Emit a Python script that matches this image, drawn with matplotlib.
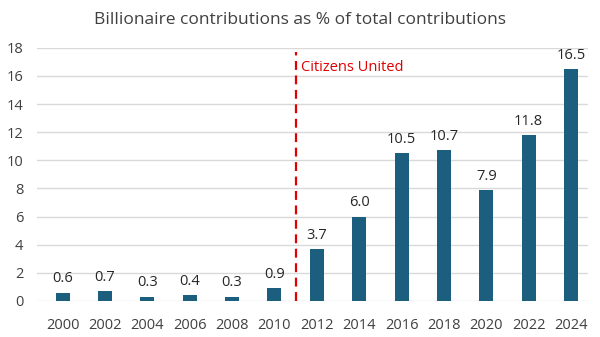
import matplotlib
matplotlib.use("Agg")
import matplotlib.pyplot as plt

years = ["2000", "2002", "2004", "2006", "2008", "2010", "2012",
         "2014", "2016", "2018", "2020", "2022", "2024"]
shares = [0.6, 0.7, 0.3, 0.4, 0.3, 0.9, 3.7, 6.0, 10.5, 10.7, 7.9, 11.8, 16.5]
y_ticks = [0, 2, 4, 6, 8, 10, 12, 14, 16, 18]

plt.rcParams["font.family"] = ["Open Sans", "DejaVu Sans"]

fig = plt.figure(figsize=(6.0, 3.37), dpi=100)
ax = fig.add_axes([0.062, 0.107, 0.918, 0.751])

x = list(range(len(years)))
bars = ax.bar(x, shares, width=0.33, color="#1B5E7E", zorder=3)
for xi, v in zip(x, shares):
    ax.text(xi, v + 0.45, f"{v:.1f}", ha="center", va="bottom",
            fontsize=10.5, color="#262626")

ax.set_xlim(-0.6, 12.4)
ax.set_ylim(0, 18)
ax.set_yticks(y_ticks)
ax.set_xticks(x)
ax.set_xticklabels(years)
ax.tick_params(axis="both", length=0, labelsize=10.5, colors="#404040")
ax.tick_params(axis="x", pad=12)
ax.tick_params(axis="y", pad=10)
ax.grid(axis="y", color="#D9D9D9", linewidth=1, zorder=0)
for s in ax.spines.values():
    s.set_visible(False)

# Citizens United decision marker
ax.axvline(5.5, ymin=0, ymax=0.985, color="#E00000", linestyle=(0, (4, 2.5)),
           linewidth=1.6, zorder=4)
ax.text(5.62, 16.6, "Citizens United", color="#E00000", fontsize=10.5,
        ha="left", va="center")

fig.suptitle("Billionaire contributions as % of total contributions",
             fontsize=12.5, color="#404040", y=0.965)

fig.savefig("out.png", dpi=100, facecolor="white")
